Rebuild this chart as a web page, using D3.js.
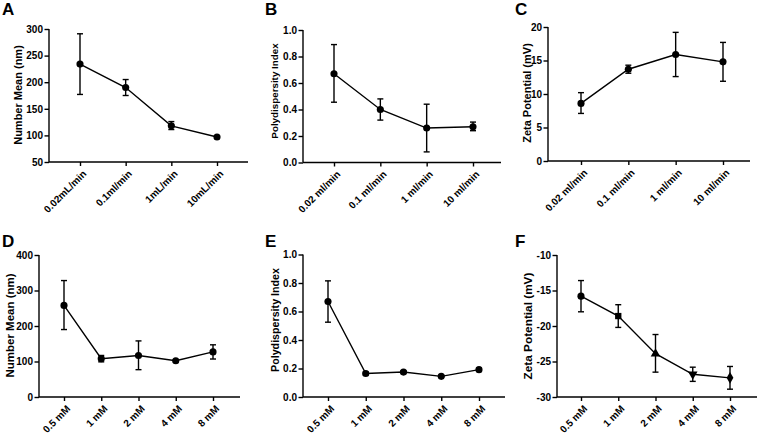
<!DOCTYPE html>
<html><head><meta charset="utf-8">
<script src="https://cdn.jsdelivr.net/npm/d3@7"></script>
<style>body{margin:0;background:#fff}svg{display:block}text{font-family:"Liberation Sans",Arial,sans-serif;font-weight:bold}</style>
</head><body><svg id="c" width="757" height="435"></svg>
<script>
// Flow rate categories
const flowCatsA = ["0.02mL/min","0.1ml/min","1mL/min","10mL/min"];
const flowCatsBC = ["0.02 ml/min","0.1 ml/min","1 ml/min","10 ml/min"];
const concCats = ["0.5 mM","1 mM","2 mM","4 mM","8 mM"];
// Series values (mean, low, high)
const aMean = [234,190,118,97], aLow = [177,175,111,95], aHigh = [291,205,126,99];
const bMean = [0.67,0.40,0.26,0.27], bLow = [0.455,0.32,0.08,0.24], bHigh = [0.89,0.48,0.44,0.305];
const cMean = [8.6,13.7,15.9,14.8], cLow = [7.1,13.1,12.6,11.9], cHigh = [10.2,14.3,19.2,17.7];
const dMean = [258,108,117,102,127], dLow = [190,99,77,99,107], dHigh = [328,117,158,105,147];
const eMean = [0.67,0.165,0.175,0.145,0.192], eLow = [0.525,0.155,0.165,0.138,0.182], eHigh = [0.815,0.175,0.185,0.152,0.202];
const fMean = [-15.8,-18.6,-23.9,-26.8,-27.3], fLow = [-18.0,-20.2,-26.5,-27.8,-28.9], fHigh = [-13.6,-17.0,-21.2,-25.8,-25.7];
// Tick values
const aTicks = [50,100,150,200,250,300];
const bTicks = [0,0.2,0.4,0.6,0.8,1.0];
const cTicks = [0,5,10,15,20];
const dTicks = [0,100,200,300,400];
const eTicks = [0,0.2,0.4,0.6,0.8,1.0];
const fTicks = [-30,-25,-20,-15,-10];
const fShapes = ["circle","square","triangle","triangleDown","diamond"];

const svg = d3.select("#c");
const intFmt = d => String(d);
const decFmt = d => d.toFixed(1);

function panel(o){
  const g = svg.append("g");
  const x = d3.scalePoint().domain(o.cats).range([o.c0,o.c1]);
  const y = d3.scaleLinear().domain([o.ticks[0],o.ticks[o.ticks.length-1]]).range([o.yb,o.yt]);
  // y axis
  const ya = g.append("g").attr("transform",`translate(${o.ax},0)`)
    .call(d3.axisLeft(y).tickValues(o.ticks).tickFormat(o.fmt).tickSize(4.5).tickPadding(1.5));
  ya.select(".domain").attr("d",`M0,${o.yt}V${o.yb}`);
  // x axis
  const xa = g.append("g").attr("transform",`translate(0,${o.yb})`)
    .call(d3.axisBottom(x).tickSize(4).tickPadding(3));
  xa.select(".domain").attr("d",`M${o.ax},0H${o.xe}`);
  [ya,xa].forEach(a=>{
    a.selectAll("path,line").attr("stroke","#000").attr("stroke-width",1.4);
    a.selectAll("text").attr("fill","#000").style("font-size","10px").style("font-weight","bold").attr("font-family","Liberation Sans, Arial, sans-serif");
  });
  xa.selectAll("text").attr("text-anchor","end").attr("x",0).attr("y",0).attr("dy","0.35em")
    .attr("transform","translate(4,10) rotate(-45)");
  // y title
  g.append("text").attr("transform",`translate(${o.tx},${o.ty}) rotate(-90)`)
    .attr("text-anchor","middle").attr("dy","0.35em").style("font-size",o.ts+"px").text(o.title);
  // panel letter
  g.append("text").attr("x",o.lx).attr("y",o.ly).style("font-size","17px").text(o.letter);
  const pts = o.cats.map((c,i)=>({c,m:o.mean[i],lo:o.low[i],hi:o.high[i],i}));
  // error bars
  const eb = g.append("g").attr("stroke","#000").attr("stroke-width",1.4);
  pts.forEach(p=>{
    const xx = x(p.c);
    eb.append("line").attr("x1",xx).attr("x2",xx).attr("y1",y(p.lo)).attr("y2",y(p.hi));
    eb.append("line").attr("x1",xx-3).attr("x2",xx+3).attr("y1",y(p.lo)).attr("y2",y(p.lo));
    eb.append("line").attr("x1",xx-3).attr("x2",xx+3).attr("y1",y(p.hi)).attr("y2",y(p.hi));
  });
  g.append("path").datum(pts).attr("fill","none").attr("stroke","#000").attr("stroke-width",1.4)
    .attr("d",d3.line().x(p=>x(p.c)).y(p=>y(p.m)));
  const symMap = {circle:d3.symbolCircle,square:d3.symbolSquare,triangle:d3.symbolTriangle,triangleDown:d3.symbolTriangle,diamond:d3.symbolDiamond};
  pts.forEach(p=>{
    const s = o.shapes ? o.shapes[p.i] : "circle";
    g.append("path").attr("d",d3.symbol().type(symMap[s]).size(40)())
      .attr("transform",`translate(${x(p.c)},${y(p.m)})${s==="triangleDown"?" rotate(180)":""}`)
      .attr("fill","#000");
  });
}

panel({cats:flowCatsA,mean:aMean,low:aLow,high:aHigh,ticks:aTicks,fmt:intFmt,
  ax:49,xe:248,c0:80,c1:217,yt:29,yb:162,tx:18,ty:95,ts:11,title:"Number Mean (nm)",letter:"A",lx:2,ly:15});
panel({cats:flowCatsBC,mean:bMean,low:bLow,high:bHigh,ticks:bTicks,fmt:decFmt,
  ax:303,xe:501,c0:334,c1:473,yt:30,yb:162.5,tx:275,ty:91,ts:9.8,title:"Polydispersity Index",letter:"B",lx:265,ly:15});
panel({cats:flowCatsBC,mean:cMean,low:cLow,high:cHigh,ticks:cTicks,fmt:intFmt,
  ax:548,xe:750,c0:581,c1:723,yt:27,yb:161,tx:527,ty:93,ts:11,title:"Zeta Potential (mV)",letter:"C",lx:515,ly:15});
panel({cats:concCats,mean:dMean,low:dLow,high:dHigh,ticks:dTicks,fmt:intFmt,
  ax:39,xe:240,c0:64,c1:213,yt:255,yb:397,tx:10,ty:325.5,ts:11.5,title:"Number Mean (nm)",letter:"D",lx:2,ly:247});
panel({cats:concCats,mean:eMean,low:eLow,high:eHigh,ticks:eTicks,fmt:decFmt,
  ax:303,xe:505,c0:328,c1:479,yt:254.5,yb:397,tx:275,ty:320,ts:10.7,title:"Polydispersity Index",letter:"E",lx:265,ly:247});
panel({cats:concCats,mean:fMean,low:fLow,high:fHigh,ticks:fTicks,fmt:intFmt,
  ax:557,xe:757,c0:581,c1:730,yt:255,yb:397,tx:528,ty:326,ts:11.8,title:"Zeta Potential (mV)",letter:"F",lx:515,ly:247,shapes:fShapes});
</script></body></html>
